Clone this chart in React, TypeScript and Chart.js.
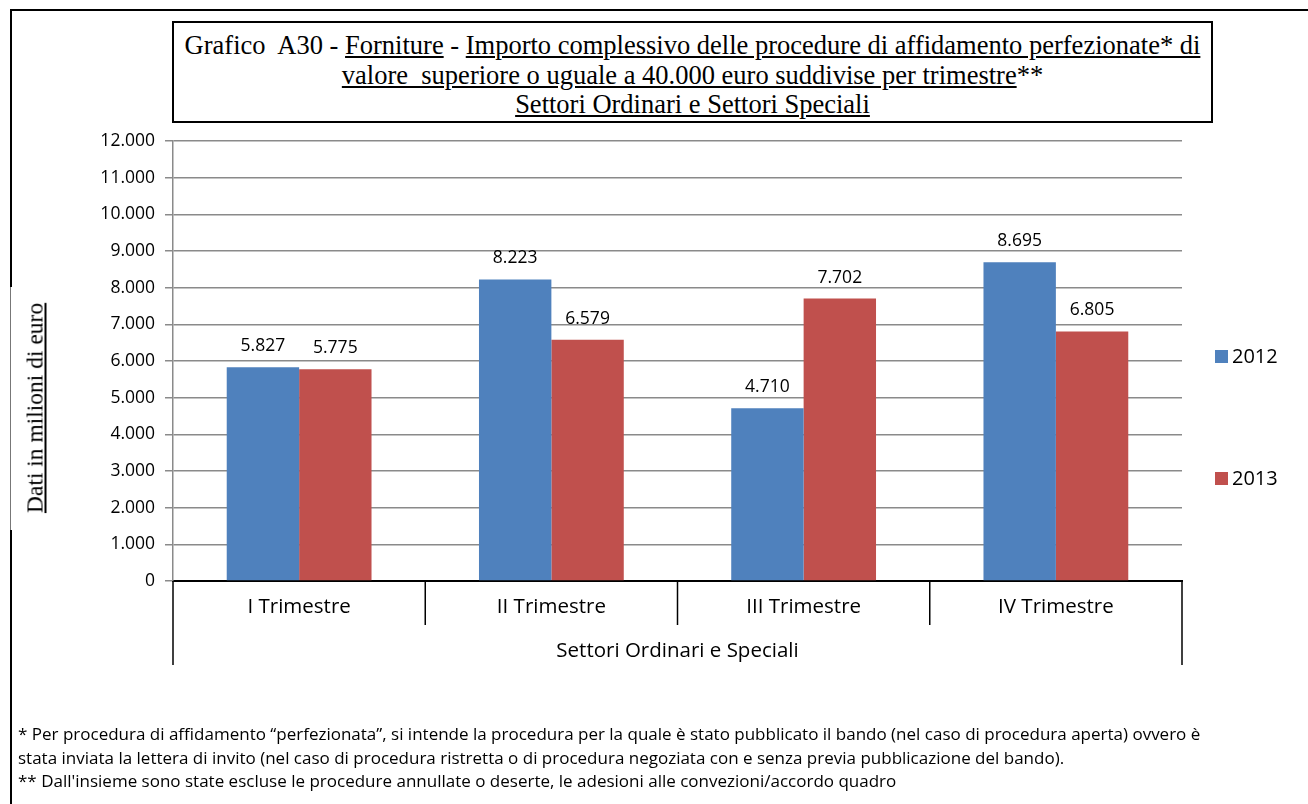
import React, { useEffect, useRef } from "react";
import { Chart, registerables } from "chart.js";

Chart.register(...registerables);

const categories = ["I Trimestre", "II Trimestre", "III Trimestre", "IV Trimestre"];
const groupLabel = "Settori Ordinari e Speciali";
const seriesNames = ["2012", "2013"];
const values2012 = [5827, 8223, 4710, 8695];
const values2013 = [5775, 6579, 7702, 6805];
const seriesColors = ["#4F81BD", "#C0504D"];
const yMin = 0;
const yMax = 12000;
const yStep = 1000;

const fmt = (v: number) => String(Math.round(v)).replace(/\B(?=(\d{3})+(?!\d))/g, ".");

const SANS = "'Open Sans', 'Noto Sans', sans-serif";
const SERIF = "'Liberation Serif', 'DejaVu Serif', serif";

const overlayPlugin = {
  id: "overlay",
  afterDraw(chart: any) {
    const ctx = chart.ctx;
    const x = chart.scales.x;
    const area = chart.chartArea;
    const n = categories.length;
    const half = (x.getPixelForValue(1) - x.getPixelForValue(0)) / 2;
    ctx.save();
    // category dividers
    ctx.strokeStyle = "#000";
    ctx.lineWidth = 1.5;
    for (let i = 0; i <= n; i++) {
      const bx = i < n ? x.getPixelForValue(i) - half : x.getPixelForValue(n - 1) + half;
      const len = i === 0 || i === n ? 84 : 44;
      ctx.beginPath();
      ctx.moveTo(bx, area.bottom);
      ctx.lineTo(bx, area.bottom + len);
      ctx.stroke();
    }
    // category labels
    ctx.fillStyle = "#000";
    ctx.textAlign = "center";
    ctx.textBaseline = "middle";
    ctx.font = `20.5px ${SANS}`;
    categories.forEach((c, i) => {
      ctx.fillText(c, x.getPixelForValue(i), area.bottom + 26);
    });
    ctx.fillText(groupLabel, (area.left + area.right) / 2, area.bottom + 70);
    // data labels
    ctx.font = `17.5px ${SANS}`;
    ctx.textBaseline = "alphabetic";
    chart.data.datasets.forEach((ds: any, di: number) => {
      const meta = chart.getDatasetMeta(di);
      meta.data.forEach((bar: any, i: number) => {
        ctx.fillText(fmt(ds.data[i]), bar.x, bar.y - 16);
      });
    });
    // legend
    ctx.textAlign = "left";
    ctx.textBaseline = "middle";
    ctx.font = `20px ${SANS}`;
    const legendY = [356, 478];
    chart.data.datasets.forEach((ds: any, di: number) => {
      ctx.fillStyle = ds.backgroundColor;
      ctx.fillRect(1215, legendY[di] - 6, 13, 13);
      ctx.fillStyle = "#000";
      ctx.fillText(ds.label, 1232, legendY[di] + 1);
    });
    ctx.restore();
  },
};

export default function App() {
  const ref = useRef<HTMLCanvasElement>(null);
  useEffect(() => {
    document.body.style.margin = "0";
    const chart = new Chart(ref.current!, {
      type: "bar",
      data: {
        labels: categories,
        datasets: [
          { label: seriesNames[0], data: values2012, backgroundColor: seriesColors[0], borderWidth: 0 },
          { label: seriesNames[1], data: values2013, backgroundColor: seriesColors[1], borderWidth: 0 },
        ],
      },
      options: {
        responsive: false,
        animation: false,
        layout: { padding: { left: 0, top: 141, right: 126, bottom: 123 } },
        datasets: { bar: { categoryPercentage: 0.574, barPercentage: 1.0 } },
        plugins: { legend: { display: false }, title: { display: false }, tooltip: { enabled: false } },
        scales: {
          x: {
            grid: { display: false },
            ticks: { display: false },
            border: { display: true, color: "#000", width: 2 },
            afterFit: (s: any) => { s.height = 100; },
          },
          y: {
            min: yMin,
            max: yMax,
            ticks: {
              stepSize: yStep,
              color: "#000",
              padding: 10,
              font: { family: SANS, size: 17.5 },
              callback: (v: any) => fmt(Number(v)),
            },
            grid: { color: "#8a8a8a", lineWidth: 1.5, tickLength: 8, drawTicks: true },
            border: { display: true, color: "#8a8a8a", width: 1.5 },
            afterFit: (s: any) => { s.width = 173; },
          },
        },
      },
      plugins: [overlayPlugin],
    });
    return () => chart.destroy();
  }, []);

  const u = { textDecoration: "underline" } as React.CSSProperties;
  return (
    <div style={{ position: "relative", width: 1308, height: 804, background: "#fff", overflow: "hidden" }}>
      <canvas ref={ref} width={1308} height={804} style={{ position: "absolute", left: 0, top: 0 }} />
      {/* outer frame */}
      <div style={{ position: "absolute", left: 10, top: 9, width: 1298, height: 2, background: "#000" }} />
      <div style={{ position: "absolute", left: 10, top: 9, width: 2, height: 278, background: "#000" }} />
      <div style={{ position: "absolute", left: 10, top: 287, width: 1, height: 243, background: "#777" }} />
      <div style={{ position: "absolute", left: 10, top: 530, width: 2, height: 274, background: "#000" }} />
      {/* title */}
      <div
        style={{
          position: "absolute", left: 172, top: 21, width: 1041, height: 102, boxSizing: "border-box",
          border: "2px solid #000", textAlign: "center", fontFamily: SERIF, fontSize: 26.5, lineHeight: "29.5px",
          paddingTop: 8, color: "#000", whiteSpace: "nowrap", background: "#fff",
        }}
      >
        <div>Grafico&nbsp; A30 - <span style={u}>Forniture</span> - <span style={u}>Importo complessivo delle procedure di affidamento perfezionate* di</span></div>
        <div><span style={u}>valore&nbsp; superiore o uguale a 40.000 euro suddivise per trimestre</span>**</div>
        <div><span style={u}>Settori Ordinari e Settori Speciali</span></div>
      </div>
      {/* y axis title */}
      <div
        style={{
          position: "absolute", left: 35, top: 408, transform: "translate(-50%, -50%) rotate(-90deg)",
          fontFamily: SERIF, fontSize: 23.5, whiteSpace: "nowrap", color: "#000", textDecoration: "underline",
        }}
      >
        Dati in milioni di euro
      </div>
      {/* footnotes */}
      <div
        style={{
          position: "absolute", left: 18, top: 722, fontFamily: SANS, fontSize: 17, lineHeight: "23.5px",
          color: "#000", whiteSpace: "nowrap",
        }}
      >
        <div>* Per procedura di affidamento “perfezionata”, si intende la procedura per la quale è stato pubblicato il bando (nel caso di procedura aperta) ovvero è</div>
        <div>stata inviata la lettera di invito (nel caso di procedura ristretta o di procedura negoziata con e senza previa pubblicazione del bando).</div>
        <div>** Dall'insieme sono state escluse le procedure annullate o deserte, le adesioni alle convezioni/accordo quadro</div>
      </div>
    </div>
  );
}
